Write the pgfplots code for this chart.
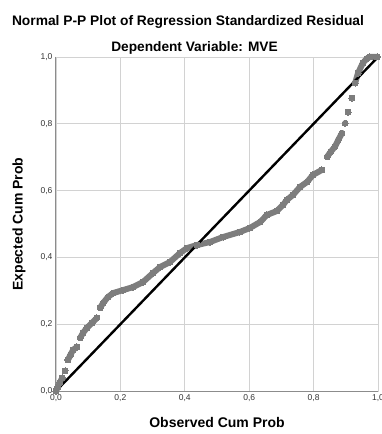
\documentclass[border=0pt]{standalone}
\usepackage{fontspec}
\setmainfont{Liberation Sans}
\usepackage{pgfplots}
\pgfplotsset{compat=1.18}
\definecolor{dotgray}{RGB}{125,125,125}
\definecolor{gridgray}{RGB}{210,210,210}
\definecolor{axgray}{RGB}{140,140,140}
\begin{document}
\begin{tikzpicture}
\begin{axis}[
  at={(0pt,0pt)}, anchor=south west,
  scale only axis, width=322pt, height=334pt,
  xmin=0, xmax=1, ymin=0, ymax=1,
  xtick={0,0.2,0.4,0.6,0.8,1}, ytick={0,0.2,0.4,0.6,0.8,1},
  xticklabels={0{,}0,0{,}2,0{,}4,0{,}6,0{,}8,1{,}0},
  yticklabels={0{,}0,0{,}2,0{,}4,0{,}6,0{,}8,1{,}0},
  grid=major, major grid style={draw=gridgray, line width=0.9pt},
  axis line style={draw=gridgray, line width=0.9pt},
  tick style={draw=none},
  ticklabel style={font=\fontsize{8.5}{9}\selectfont, text=black!80},
  unbounded coords=jump,
  clip=false,
]
\addplot[dotgray, line width=6pt, line cap=round, line join=round,
  mark=*, mark size=3pt, mark options={fill=dotgray, draw=dotgray, line width=0pt}]
coordinates {
(0.000,0.000)(0.006,0.012)(0.012,0.025)(0.019,0.039)
(nan,nan)
(0.028,0.060)
(nan,nan)
(0.037,0.093)(0.045,0.108)(0.053,0.123)(0.060,0.128)(0.065,0.132)
(nan,nan)
(0.075,0.159)(0.084,0.174)(0.096,0.189)(0.112,0.204)(0.127,0.219)
(nan,nan)
(0.137,0.249)(0.146,0.263)(0.161,0.281)(0.177,0.293)(0.208,0.302)(0.239,0.311)
(0.270,0.326)(0.301,0.353)(0.323,0.371)(0.354,0.386)(0.385,0.413)(0.407,0.428)
(0.438,0.437)(0.478,0.446)(0.519,0.461)(0.571,0.476)(0.602,0.488)(0.634,0.506)
(0.655,0.527)(0.686,0.539)(0.705,0.557)(0.717,0.572)(0.736,0.587)(0.758,0.611)
(0.780,0.626)(0.798,0.647)(0.826,0.662)
(nan,nan)
(0.842,0.701)(0.853,0.716)(0.866,0.731)(0.877,0.752)(0.888,0.772)
(nan,nan)
(0.898,0.802)
(nan,nan)
(0.907,0.835)
(nan,nan)
(0.919,0.877)
(nan,nan)
(0.929,0.922)(0.938,0.952)(0.953,0.982)(0.965,0.995)(0.975,1.000)(0.997,1.000)
};
\addplot[black, line width=2.4pt] coordinates {(0,0)(1,1)};
\draw[axgray, line width=1pt] (axis cs:0,1) -- (axis cs:0,0) -- (axis cs:1,0);
\end{axis}
\node[font=\fontsize{13.8}{16}\selectfont\bfseries] at (132pt,369pt) {Normal P-P Plot of Regression Standardized Residual};
\node[font=\fontsize{13.7}{16}\selectfont\bfseries] at (138.5pt,343pt) {Dependent Variable: MVE};
\node[font=\fontsize{14}{16}\selectfont\bfseries] at (161pt,-31pt) {Observed Cum Prob};
\node[font=\fontsize{14}{16}\selectfont\bfseries, rotate=90] at (-37pt,167pt) {Expected Cum Prob};
\pgfresetboundingbox
\useasboundingbox (-56pt,-43pt) rectangle (326pt,391pt);
\end{tikzpicture}
\end{document}
